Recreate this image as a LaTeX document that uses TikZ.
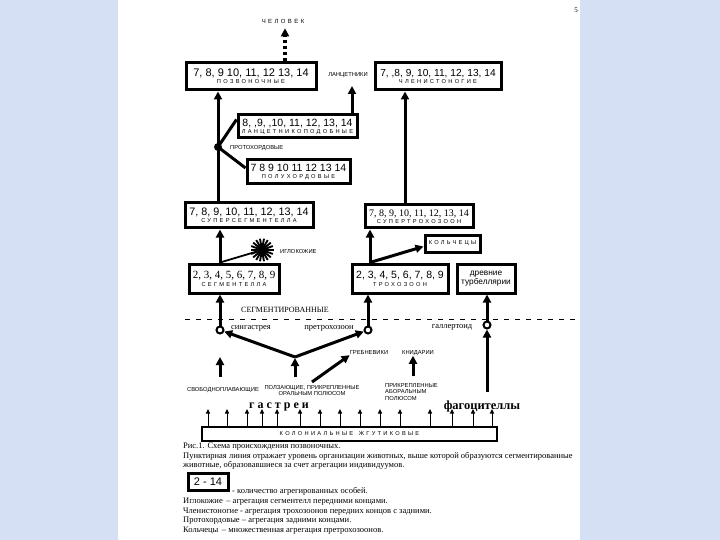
\documentclass[tikz,border=0pt]{standalone}
\usepackage{fontspec}
\setmainfont{Liberation Serif}
\setsansfont{Liberation Sans}
\newfontfamily\spc[LetterSpace=40]{Liberation Sans}
\newfontfamily\spcser[LetterSpace=25]{Liberation Serif}
\usetikzlibrary{arrows.meta,calc}
\definecolor{bgblue}{RGB}{214,224,245}
\newcommand\bxs[2]{{\fontsize{#1}{#1}\selectfont\sffamily #2}}
\newcommand\bxr[2]{{\fontsize{#1}{#1}\selectfont\rmfamily #2}}
\newcommand\nm[1]{{\fontsize{5.7}{6}\selectfont\spc #1}}
\begin{document}
\begin{tikzpicture}[x=1pt,y=-1pt,
  box/.style={draw,line width=3pt,inner sep=0pt,align=center,fill=white,font=\fontsize{8}{8}\selectfont},
  arr/.style={line width=3pt,-{Triangle[length=8pt,width=8pt]}},
  tarr/.style={line width=1pt,-{Triangle[length=4.5pt,width=4pt]}},
  lbl/.style={font=\fontsize{5.8}{6.8}\selectfont\sffamily,inner sep=0pt,align=left},
  slbl/.style={font=\fontsize{8.5}{9}\selectfont\rmfamily,inner sep=0pt},
  captxt/.style={font=\fontsize{8.5}{9}\selectfont\rmfamily,inner sep=0pt,anchor=west},
  ring/.style={circle,draw,line width=2pt,fill=white,inner sep=0pt,minimum size=7pt}
]
\useasboundingbox (0,0) rectangle (720,540);
\fill[bgblue] (0,0) rectangle (720,540);
\fill[white] (118,0) rectangle (580,540);
\node[font=\fontsize{7}{8}\selectfont\rmfamily,inner sep=0pt] (pg) at (576,10) {5};

% boxes
\node[box,minimum width=130pt,minimum height=27pt] (pozv) at (251,76.5)
  {\bxs{11}{7, 8, 9 10, 11, 12 13, 14}\\[-1pt]\nm{ПОЗВОНОЧНЫЕ}};
\node[box,minimum width=126pt,minimum height=27pt] (chlen) at (438,76.5)
  {\bxs{10.2}{7, ,8, 9, 10, 11, 12, 13, 14}\\[-1pt]\nm{ЧЛЕНИСТОНОГИЕ}};
\node[box,minimum width=119pt,minimum height=23pt] (lanc) at (297.5,126.5)
  {\bxs{10.5}{8, ,9, ,10, 11, 12, 13, 14}\\[-1pt]\nm{ЛАНЦЕТНИКОПОДОБНЫЕ}};
\node[box,minimum width=103pt,minimum height=24pt] (polu) at (298.5,172)
  {\bxs{10.5}{7 8 9 10 11 12 13 14}\\[-1pt]\nm{ПОЛУХОРДОВЫЕ}};
\node[box,minimum width=128pt,minimum height=25pt] (supseg) at (249,215.5)
  {\bxs{10.8}{7, 8, 9, 10, 11, 12, 13, 14}\\[-1pt]\nm{СУПЕРСЕГМЕНТЕЛЛА}};
\node[box,minimum width=108pt,minimum height=23pt] (suptro) at (419,216.5)
  {\bxr{10}{7, 8, 9, 10, 11, 12, 13, 14}\\[-1pt]\nm{СУПЕРТРОХОЗООН}};
\node[box,minimum width=55pt,minimum height=17pt] (kolch) at (452.5,243.5)
  {\nm{КОЛЬЧЕЦЫ}};
\node[box,minimum width=90pt,minimum height=29pt] (segm) at (234,278.5)
  {\bxr{11}{2, 3, 4, 5, 6, 7, 8, 9}\\[0pt]\nm{СЕГМЕНТЕЛЛА}};
\node[box,minimum width=96pt,minimum height=29pt] (troch) at (400,278.5)
  {\bxs{10.5}{2, 3, 4, 5, 6, 7, 8, 9}\\[0pt]\nm{ТРОХОЗООН}};
\node[box,minimum width=58pt,minimum height=29pt,font=\fontsize{8.3}{9.5}\selectfont\sffamily] (turb) at (486,278.5)
  {древние\\турбеллярии};

% labels
\node[font=\fontsize{6}{6}\selectfont\spc,inner sep=0pt] (chel) at (283,21) {ЧЕЛОВЕК};
\node[lbl] (lancl) at (348,75) {ЛАНЦЕТНИКИ};
\node[lbl,anchor=west] (protl) at (230,148) {ПРОТОХОРДОВЫЕ};
\node[lbl,anchor=west] (iglol) at (280,252) {ИГЛОКОЖИЕ};
\node[font=\fontsize{8}{8}\selectfont\rmfamily,inner sep=0pt] (segl) at (285,310) {СЕГМЕНТИРОВАННЫЕ};
\node[slbl] (singl) at (251,328) {сингастрея};
\node[slbl] (pretl) at (329,328) {претрохозоон};
\node[slbl] (gall) at (452,327) {галлертоид};
\node[lbl] (grebl) at (369,353) {ГРЕБНЕВИКИ};
\node[lbl] (knidl) at (418,353) {КНИДАРИИ};
\node[lbl] (svobl) at (223,390) {СВОБОДНОПЛАВАЮЩИЕ};
\node[lbl,align=center] (polzl) at (312,390.5) {ПОЛЗАЮЩИЕ, ПРИКРЕПЛЕННЫЕ\\ОРАЛЬНЫМ ПОЛЮСОМ};
\node[lbl,anchor=west] (aborl) at (385,392) {ПРИКРЕПЛЕННЫЕ\\АБОРАЛЬНЫМ\\ПОЛЮСОМ};
\node[font=\fontsize{12}{12}\selectfont\spcser\bfseries,inner sep=0pt] (gastl) at (279,407) {гастреи};
\node[font=\fontsize{12.5}{12}\selectfont\rmfamily\bfseries,inner sep=0pt] (fagl) at (482,406) {фагоцителлы};

% bottom bar
\node[draw,line width=2.8pt,minimum width=295pt,minimum height=14pt,inner sep=0pt,fill=white] (bar) at (349.5,434)
  {\nm{КОЛОНИАЛЬНЫЕ\quad ЖГУТИКОВЫЕ}};
\foreach \x in {208,227,247,262,277,300,320,340,360,380,400,430,452,473,492}
  \draw[tarr] (bar.north -| \x,0) -- (\x,409);

% dashed level line
\coordinate (dl) at (185,319);
\coordinate (dr) at (580,319);
\draw[line width=1pt,dash pattern=on 5pt off 6pt] (dl) -- (dr);

% junction and star
\node[circle,fill,inner sep=0pt,minimum size=8pt] (junc) at (218,147) {};
\node[circle,fill,inner sep=0pt,minimum size=10pt] (star) at (262,250) {};
\foreach \a in {0,20,...,340} \draw[line width=1.9pt] (star.center) -- ++(\a:11.5);

% rings
\node[ring] (r1) at (220,330) {};
\node[ring] (r2) at (368,330) {};
\node[ring] (r3) at (487,325) {};
\coordinate (vapex) at (295,357);
\coordinate (fagtop) at (487,392);

% connectors upper
\draw[line width=3.2pt,dash pattern=on 3.5pt off 2.5pt,-{Triangle[length=8pt,width=8pt]}] (pozv.north -| 285,0) -- ([yshift=-5pt]chel.south -| 285,0);
\draw[arr] (supseg.north -| junc) -- (pozv.south -| junc);
\draw[line width=3pt] (junc.center) -- ([yshift=7pt]lanc.west);
\draw[line width=3pt] (junc.center) -- ([yshift=4pt]polu.west);
\coordinate (lt) at (352,86);
\draw[arr] (lanc.north -| lt) -- (lt);
\coordinate (xc) at (405,0);
\draw[arr] (suptro.north -| xc) -- (chlen.south -| xc);
\coordinate (xt) at (370,0);
\draw[arr] (troch.north -| xt) -- (suptro.south -| xt);
\draw[arr] (troch.north -| xt) -- ([yshift=-3pt]kolch.west);
\coordinate (xs) at (220,0);
\draw[arr] (segm.north -| xs) -- (supseg.south -| xs);
\draw[line width=1.8pt] (segm.north -| xs) -- (star.center);

% connectors lower
\draw[arr] (r1) -- (segm.south -| r1);
\draw[arr] (r2) -- (troch.south -| r2);
\draw[arr] (r3) -- (turb.south -| r3);
\draw[arr] (fagtop) -- (r3);
\draw[arr] (vapex) -- (r1);
\draw[arr] (vapex) -- (r2);
\coordinate (a1) at (295,377);
\draw[arr] (a1) -- ([yshift=-1pt]vapex);
\coordinate (a2b) at (220,377);
\coordinate (a2t) at (220,357);
\draw[arr] (a2b) -- (a2t);
\coordinate (a3b) at (312,382);
\draw[arr] (a3b) -- (grebl.south west);
\coordinate (a4b) at (413,376);
\draw[arr] (a4b) -- (knidl.south -| a4b);

% caption
\node[captxt] (c1) at (183,447) {Рис.1. Схема происхождения позвоночных.};
\node[captxt] (c2) at (183,456) {Пунктирная линия отражает уровень организации животных, выше которой образуются сегментированные};
\node[captxt] (c3) at (183,465) {животные, образовавшиеся за счет агрегации индивидуумов.};
\node[draw,line width=3pt,minimum width=40pt,minimum height=17pt,inner sep=0pt,font=\fontsize{11}{11}\selectfont\sffamily] (leg) at (208,481.5) {2 - 14};
\node[captxt] (c4) at (232,491) {- количество агрегированных особей.};
\node[captxt] (c5) at (183,502) {Иглокожие \,– агрегация сегментелл передними концами.};
\node[captxt] (c6) at (183,512) {Членистоногие - агрегация трохозоонов передних концов с задними.};
\node[captxt] (c7) at (183,521) {Протохордовые – агрегация задними концами.};
\node[captxt] (c8) at (183,531) {Кольчецы \,– множественная агрегация претрохозоонов.};
\end{tikzpicture}
\end{document}
